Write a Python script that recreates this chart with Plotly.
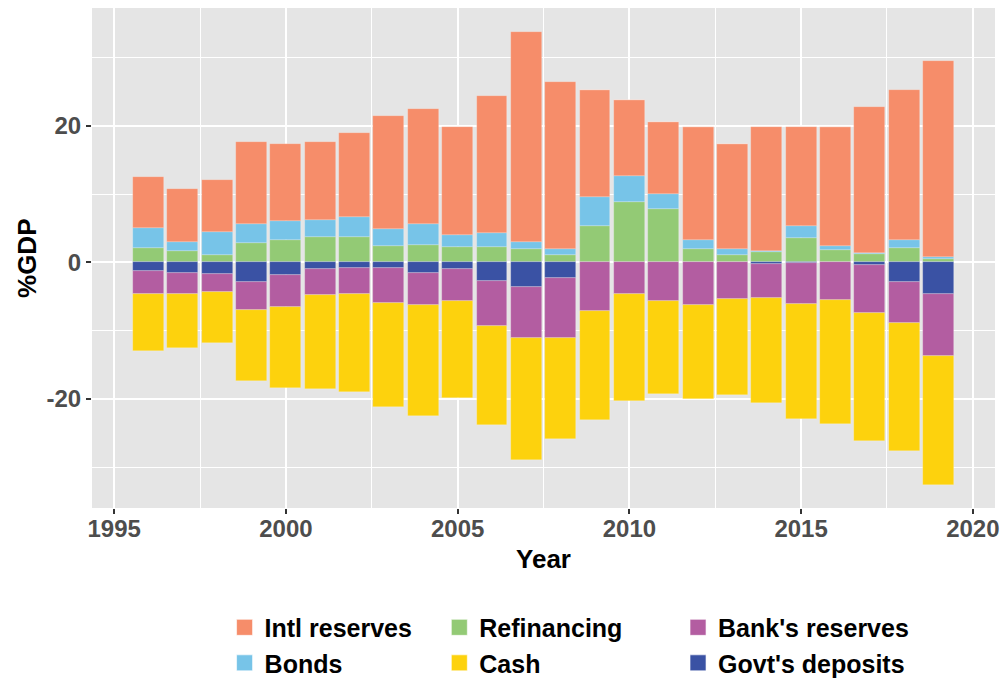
import plotly.graph_objects as go

years = list(range(1996, 2020))

intl_reserves = [7.44, 7.75, 7.62, 11.90, 11.36, 11.46, 12.32, 16.53, 16.85, 15.82, 20.07, 30.84,
                 24.47, 15.70, 11.15, 10.60, 16.45, 15.37, 18.17, 14.44, 17.33, 21.36, 21.95, 28.79]
bonds = [2.89, 1.32, 3.43, 2.84, 2.79, 2.55, 2.94, 2.55, 3.13, 1.86, 2.01, 1.03,
         0.88, 4.24, 3.82, 2.15, 1.32, 0.78, 0.24, 1.76, 0.59, 0.19, 1.22, 0.25]
refinancing = [2.17, 1.73, 1.05, 2.86, 3.25, 3.69, 3.69, 2.42, 2.52, 2.22, 2.32, 1.93,
               1.05, 5.36, 8.83, 7.85, 2.03, 1.15, 1.49, 3.60, 1.88, 1.25, 2.13, 0.56]
govt_deposits = [-1.20, -1.60, -1.65, -2.86, -1.79, -0.95, -0.81, -0.81, -1.54, -1.00, -2.71, -3.55,
                 -2.32, 0.0, 0.0, 0.0, 0.0, 0.0, -0.20, -0.10, 0.0, -0.44, -2.90, -4.58]
banks_reserves = [-3.42, -2.98, -2.73, -4.14, -4.70, -3.87, -3.86, -5.18, -4.70, -4.65, -6.61, -7.57,
                  -8.71, -7.07, -4.62, -5.65, -6.19, -5.36, -5.00, -6.00, -5.50, -6.91, -6.00, -9.08]
cash = [-8.38, -7.97, -7.42, -10.35, -11.88, -13.68, -14.29, -15.17, -16.26, -14.19, -14.52, -17.78,
        -14.82, -16.03, -15.66, -13.65, -13.84, -14.04, -15.46, -16.86, -18.15, -18.85, -18.80, -19.04]

x_tickvals = [1995, 2000, 2005, 2010, 2015, 2020]
x_ticktext = ["1995", "2000", "2005", "2010", "2015", "2020"]
y_tickvals = [-20, 0, 20]
y_ticktext = ["-20", "0", "20"]

# stacking order (relative barmode stacks in trace order)
series = [
    ("Refinancing", refinancing, "#93CA75", "legend2", 1),
    ("Bonds", bonds, "#77C4E8", "legend", 2),
    ("Intl reserves", intl_reserves, "#F68D6A", "legend", 1),
    ("Govt's deposits", govt_deposits, "#3A52A4", "legend3", 2),
    ("Bank's reserves", banks_reserves, "#B35DA1", "legend3", 1),
    ("Cash", cash, "#FDD20D", "legend2", 2),
]

fig = go.Figure()
for name, vals, color, leg, rank in series:
    fig.add_trace(go.Bar(
        x=years, y=vals, name=name, width=0.9,
        marker=dict(color=color, line=dict(color="rgba(255,255,255,0.35)", width=0.6)),
        showlegend=False,
    ))
for name, vals, color, leg, rank in series:
    fig.add_trace(go.Scatter(
        x=[None], y=[None], mode="markers", name=name,
        marker=dict(symbol="square", size=30, color=color,
                    line=dict(color="rgba(255,255,255,0.6)", width=1)),
        legend=leg, legendrank=rank, showlegend=True, hoverinfo="skip",
    ))

tickfont = dict(family="Liberation Sans", size=24, color="#4D4D4D", weight="bold")
titlefont = dict(family="Liberation Sans", size=26, color="black", weight="bold")
legfont = dict(family="Liberation Sans", size=25, color="black", weight="bold")

legbase = dict(xref="container", yref="container", xanchor="left", yanchor="top",
               font=legfont, itemsizing="trace", tracegroupgap=0,
               bgcolor="rgba(0,0,0,0)")

fig.update_layout(
    width=1003, height=680,
    margin=dict(l=92, r=8, t=8, b=172, autoexpand=False),
    barmode="relative",
    bargap=0,
    plot_bgcolor="#E5E5E5",
    paper_bgcolor="white",
    xaxis=dict(
        range=[1994.355, 2020.645],
        tickvals=x_tickvals, ticktext=x_ticktext,
        tickfont=tickfont, ticklabelstandoff=-6,
        title=dict(text="Year", font=titlefont, standoff=9),
        ticks="outside", ticklen=5, tickwidth=1.5, tickcolor="#333333",
        showgrid=True, gridcolor="white", gridwidth=2,
        minor=dict(tickvals=[1997.5, 2002.5, 2007.5, 2012.5, 2017.5], showgrid=True,
                   gridcolor="white", gridwidth=1),
        zeroline=False, showline=False, automargin=True,
    ),
    yaxis=dict(
        range=[-36.0, 37.3],
        tickvals=y_tickvals, ticktext=y_ticktext,
        tickfont=tickfont,
        ticks="outside", ticklen=5, tickwidth=1.5, tickcolor="#333333",
        showgrid=True, gridcolor="white", gridwidth=2,
        minor=dict(tickvals=[-30, -10, 10, 30], showgrid=True, gridcolor="white", gridwidth=1),
        zeroline=False, showline=False, automargin=True,
    ),
    annotations=[dict(text="%GDP", textangle=-90, xref="paper", yref="paper",
                      x=-0.072, y=0.5, xanchor="center", yanchor="middle",
                      showarrow=False, font=titlefont)],
    legend=dict(x=0.2239, y=0.1109, **legbase),
    legend2=dict(x=0.438, y=0.1109, **legbase),
    legend3=dict(x=0.676, y=0.1109, **legbase),
)

fig.write_html(
    "out.html",
    config={"displayModeBar": False},
    post_script="document.body.style.margin='0';document.body.style.overflow='hidden';",
)
